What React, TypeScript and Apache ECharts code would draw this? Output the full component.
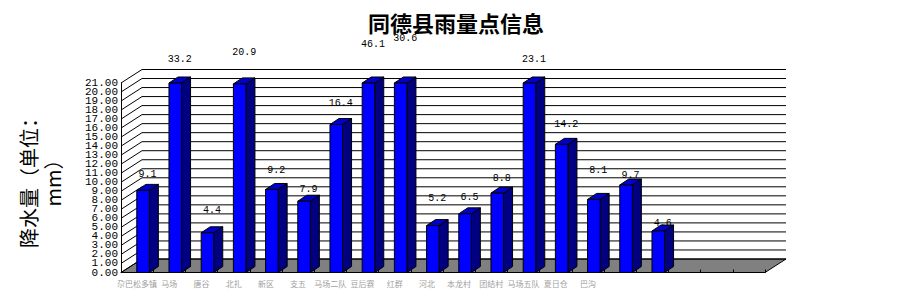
import React, { useEffect, useRef } from "react";
import * as echarts from "echarts";

const TITLE = "同德县雨量点信息";
const Y_NAME = "降水量（单位：\nmm）";
const categories = [
  "尕巴松多镇", "马场", "唐谷", "北扎", "新区", "支五", "马场二队", "豆后赛",
  "红群", "河北", "本龙村", "团结村", "马场五队", "夏日仓", "巴沟", "", "", "", "", "",
];
const rainfall = [9.1, 33.2, 4.4, 20.9, 9.2, 7.9, 16.4, 46.1, 30.6, 5.2, 6.5, 8.8, 23.1, 14.2, 8.1, 9.7, 4.6];
const yTicks = [0, 1, 2, 3, 4, 5, 6, 7, 8, 9, 10, 11, 12, 13, 14, 15, 16, 17, 18, 19, 20, 21];
const Y_MAX = 21;

// style: how far (px) each value label floats above its bar top
const labelLift = [16, 23.5, 22, 31, 19, 12, 21, 38.5, 44.5, 27, 16, 15, 23.5, 20, 29, 9, 7];

const WALL_DX = 21;
const WALL_DY = 13.5;
const MONO = "'Liberation Mono', 'DejaVu Sans Mono', monospace";
const CJK = "'Noto Sans CJK SC', sans-serif";

export default function App() {
  const ref = useRef<HTMLDivElement>(null);
  useEffect(() => {
    if (!ref.current) return;
    const chart = echarts.init(ref.current, undefined, { renderer: "svg" });
    chart.setOption({
      animation: false,
      backgroundColor: "#ffffff",
      title: {
        text: TITLE,
        left: 451,
        textAlign: "center",
        top: 6,
        textStyle: { fontFamily: CJK, fontSize: 22, fontWeight: "bold", color: "#000" },
      },
      graphic: [
        {
          type: "text",
          x: 40,
          y: 178,
          rotation: Math.PI / 2,
          z: 100,
          style: {
            text: Y_NAME,
            align: "center",
            verticalAlign: "middle",
            fontFamily: CJK,
            fontSize: 20,
            lineHeight: 24,
            fill: "#000",
          },
        },
      ],
      grid: { left: 121, right: 133, top: 83, bottom: 34.5 },
      xAxis: {
        type: "category",
        data: categories,
        boundaryGap: true,
        z: 5,
        axisLine: { show: true, lineStyle: { color: "#000", width: 1 } },
        axisTick: { show: true, inside: true, length: 3, lineStyle: { color: "#000" } },
        axisLabel: { interval: 0, fontSize: 8, color: "#a0a0a0", fontFamily: CJK, margin: 7 },
        splitLine: { show: false },
      },
      yAxis: {
        type: "value",
        min: 0,
        max: Y_MAX,
        interval: 1,
        axisLine: { show: true, lineStyle: { color: "#000", width: 1 } },
        axisTick: { show: false },
        splitLine: { show: false },
        axisLabel: { show: false },
      },
      series: [
        {
          type: "custom",
          name: "frame",
          z: 1,
          clip: false,
          silent: true,
          data: yTicks.map((v) => [0, v]),
          renderItem: (params: any, api: any) => {
            const v = api.value(1);
            const cs = params.coordSys;
            const y = api.coord([0, v])[1];
            const x0 = cs.x;
            const x1 = cs.x + cs.width;
            const children: any[] = [];
            if (v === 0) {
              children.push({
                type: "polygon",
                shape: {
                  points: [
                    [x0, y],
                    [x1, y],
                    [x1 + WALL_DX, y - WALL_DY],
                    [x0 + WALL_DX, y - WALL_DY],
                  ],
                },
                style: { fill: "#808080", stroke: "#000", lineWidth: 1 },
              });
            }
            children.push({
              type: "line",
              shape: { x1: x0, y1: y, x2: x0 + WALL_DX, y2: y - WALL_DY },
              style: { stroke: "#000", lineWidth: 1 },
            });
            children.push({
              type: "line",
              shape: { x1: x0 + WALL_DX, y1: y - WALL_DY, x2: x1 + WALL_DX, y2: y - WALL_DY },
              style: { stroke: "#000", lineWidth: 1 },
            });
            children.push({
              type: "text",
              style: {
                text: v.toFixed(2),
                x: x0 - 3,
                y: y,
                align: "right",
                verticalAlign: "middle",
                fontFamily: MONO,
                fontSize: 11,
                lineHeight: 8,
                fill: "#000",
              },
            });
            return { type: "group", children };
          },
        },
        {
          type: "custom",
          name: "降水量",
          z: 3,
          clip: false,
          data: rainfall.map((v, i) => [i, v]),
          renderItem: (params: any, api: any) => {
            const i = api.value(0);
            const v = api.value(1);
            const h = Math.min(v, Y_MAX);
            const base = api.coord([i, 0]);
            const top = api.coord([i, h]);
            const bw = api.size([1, 0])[0];
            const left = base[0] - bw / 2 + 0.49 * bw;
            const w = 0.39 * bw;
            const dx = 0.28 * bw;
            const dy = 6;
            const by = base[1];
            const ty = top[1];
            const stroke = { stroke: "#000", lineWidth: 1 };
            return {
              type: "group",
              children: [
                {
                  type: "polygon",
                  shape: {
                    points: [
                      [left + w, by],
                      [left + w + dx, by - dy],
                      [left + w + dx, ty - dy],
                      [left + w, ty],
                    ],
                  },
                  style: { fill: "#000080", ...stroke },
                },
                {
                  type: "polygon",
                  shape: {
                    points: [
                      [left, ty],
                      [left + dx, ty - dy],
                      [left + w + dx, ty - dy],
                      [left + w, ty],
                    ],
                  },
                  style: { fill: "#0000c8", ...stroke },
                },
                {
                  type: "rect",
                  shape: { x: left, y: ty, width: w, height: by - ty },
                  style: { fill: "#0000ff", ...stroke },
                },
                {
                  type: "text",
                  z2: 10,
                  style: {
                    text: v.toFixed(1),
                    x: left + (w + dx) / 2,
                    y: ty - labelLift[i],
                    align: "center",
                    verticalAlign: "middle",
                    fontFamily: MONO,
                    fontSize: 10,
                    fill: "#000",
                  },
                },
              ],
            };
          },
        },
      ],
    });
    return () => chart.dispose();
  }, []);
  return (
    <div
      ref={ref}
      style={{ position: "fixed", left: 0, top: 0, width: 898, height: 307 }}
    />
  );
}
